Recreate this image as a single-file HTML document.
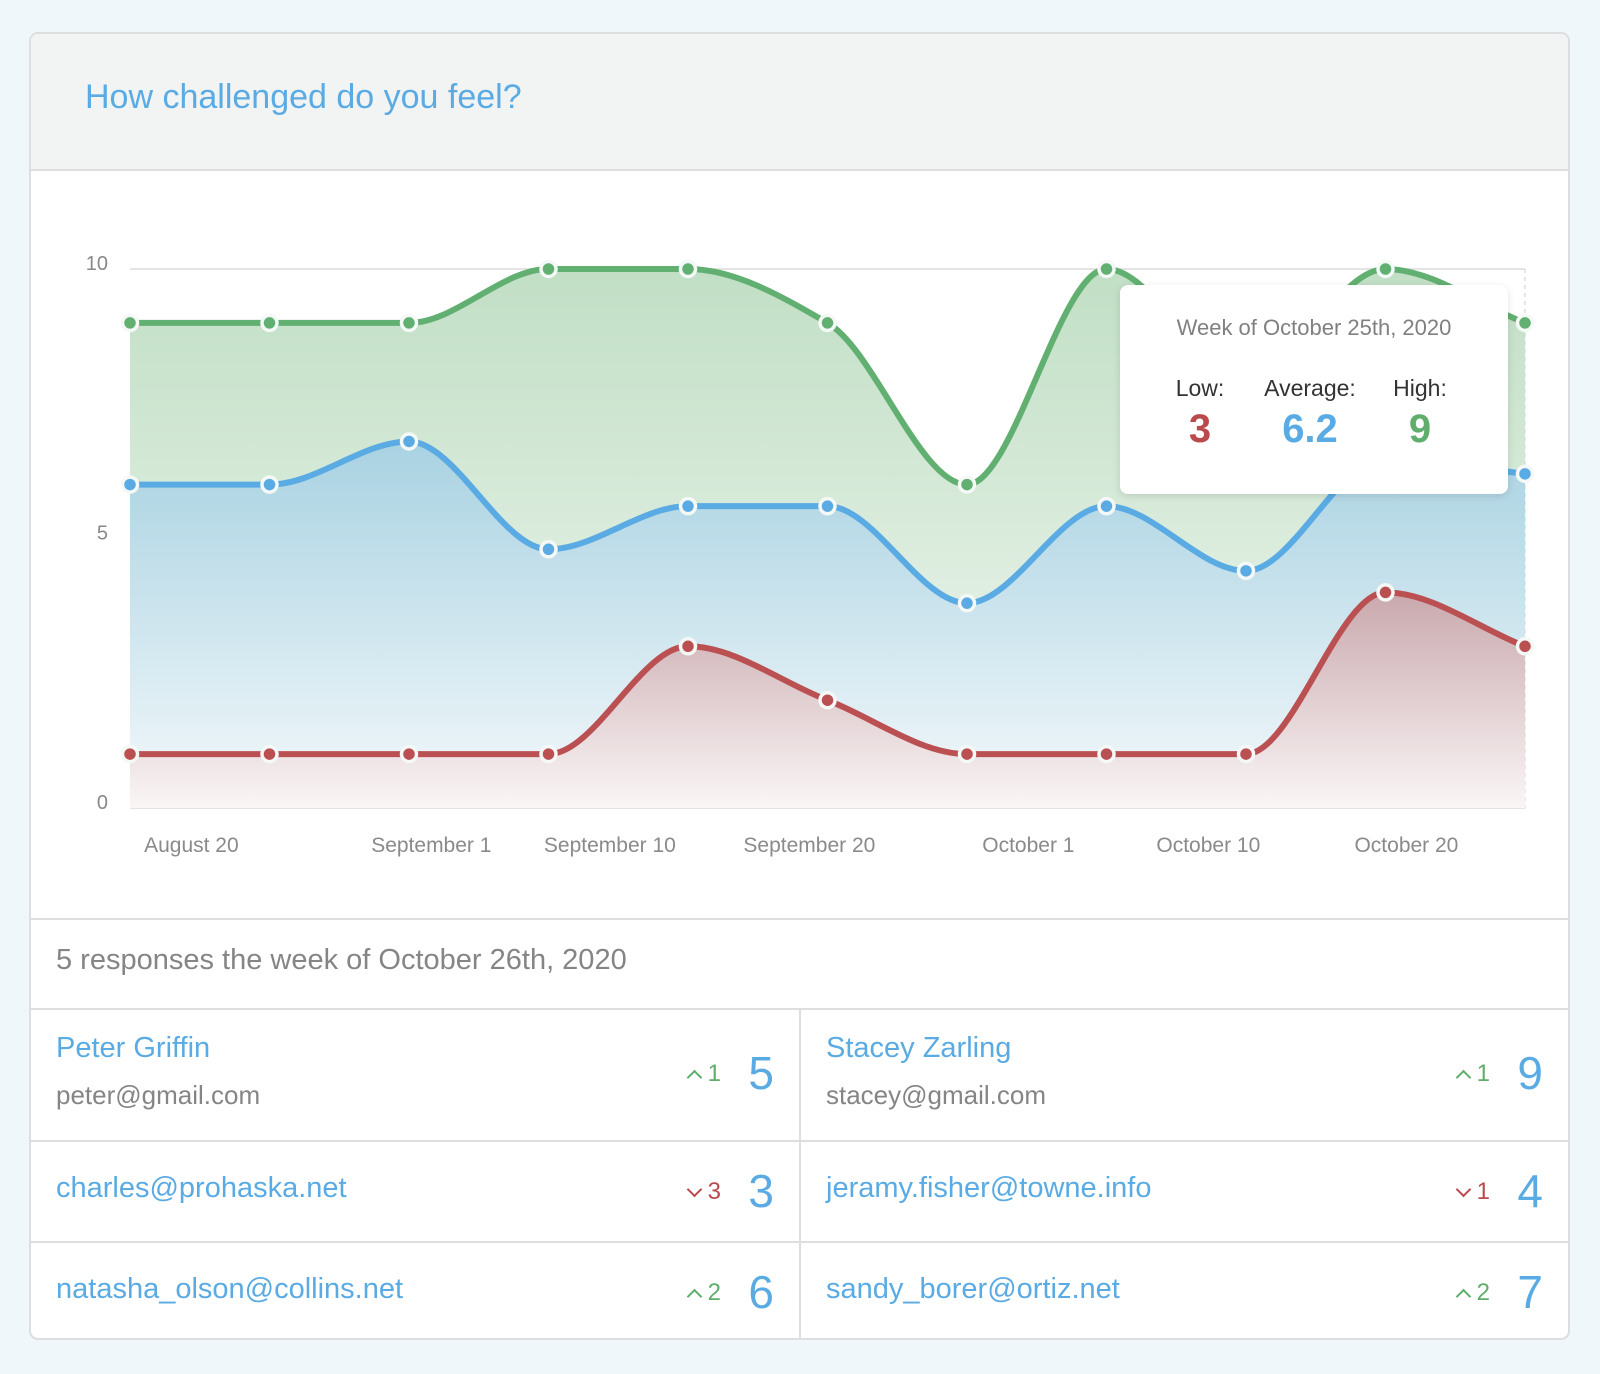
<!DOCTYPE html>
<html><head><meta charset="utf-8">
<style>
html,body{margin:0;padding:0;}
body{width:1600px;height:1374px;background:#eff7fa;font-family:"Liberation Sans",sans-serif;position:relative;overflow:hidden;}
.card{position:absolute;left:29px;top:32px;width:1541px;height:1308px;background:#fff;border:2px solid #dcdedf;border-radius:9px;overflow:hidden;box-sizing:border-box;}
.hdr{position:absolute;left:0;top:0;right:0;height:135px;background:#f2f3f3;border-bottom:2px solid #dcdedf;}
.title{position:absolute;left:54px;top:44px;font-size:34px;color:#5aabe3;}
svg{position:absolute;left:0;top:0;}
.sum{position:absolute;left:0;right:0;top:884px;height:88px;border-top:2px solid #dcdedf;border-bottom:2px solid #dcdedf;}
.sum span{position:absolute;left:25px;top:24px;font-size:29px;color:#858585;}
.row{position:absolute;left:0;right:0;border-bottom:2px solid #dcdedf;}
.cell{position:absolute;top:0;bottom:0;}
.name{position:absolute;left:25px;font-size:29px;color:#5aabe3;white-space:nowrap;}
.mail{position:absolute;left:25px;font-size:26px;color:#858585;}
.num{position:absolute;right:25px;font-size:46px;color:#5aabe3;}
.chg{position:absolute;right:78px;font-size:24px;}
.chg i{display:inline-block;width:9px;height:9px;border-left:2px solid currentColor;border-top:2px solid currentColor;margin-right:8px;}
.up i{transform:rotate(45deg);vertical-align:-2px;}
.dn i{transform:rotate(225deg);vertical-align:4px;}
.up{color:#5fae6c}.dn{color:#b94a4d}
.tip{position:absolute;left:1089px;top:251px;width:388px;height:209px;background:#fff;border-radius:8px;box-shadow:0 2px 8px rgba(0,0,0,.12);}
.tip .wk{position:absolute;left:0;right:0;top:30px;text-align:center;font-size:22px;color:#808080;}
.tip .lab{position:absolute;top:90px;font-size:23px;color:#333;text-align:center;}
.tip .val{position:absolute;top:122px;font-size:40px;font-weight:bold;text-align:center;}
</style></head><body>
<div class="card">
  <div class="hdr"><div class="title">How challenged do you feel?</div></div>
  <svg id="chart" width="1541" height="880"></svg>
  <div class="tip">
    <div class="wk">Week of October 25th, 2020</div>
    <div class="lab" style="left:30px;width:100px">Low:</div>
    <div class="lab" style="left:130px;width:120px">Average:</div>
    <div class="lab" style="left:250px;width:100px">High:</div>
    <div class="val" style="left:30px;width:100px;color:#b94a4d">3</div>
    <div class="val" style="left:130px;width:120px;color:#5aabe3">6.2</div>
    <div class="val" style="left:250px;width:100px;color:#5fae6c">9</div>
  </div>
  <div class="sum"><span>5 responses the week of October 26th, 2020</span></div>
  <div class="row" style="top:974px;height:132px">
    <div class="cell" style="left:0;width:768px;border-right:2px solid #dcdedf">
      <div class="name" style="top:24px">Peter Griffin</div>
      <div class="mail" style="top:72px">peter@gmail.com</div>
      <div class="chg up" style="top:52px"><i></i>1</div>
      <div class="num" style="top:38px">5</div>
    </div>
    <div class="cell" style="left:770px;right:0">
      <div class="name" style="top:24px">Stacey Zarling</div>
      <div class="mail" style="top:72px">stacey@gmail.com</div>
      <div class="chg up" style="top:52px"><i></i>1</div>
      <div class="num" style="top:38px">9</div>
    </div>
  </div>
  <div class="row" style="top:1108px;height:99px">
    <div class="cell" style="left:0;width:768px;border-right:2px solid #dcdedf">
      <div class="name" style="top:30px">charles@prohaska.net</div>
      <div class="chg dn" style="top:36px"><i></i>3</div>
      <div class="num" style="top:22px">3</div>
    </div>
    <div class="cell" style="left:770px;right:0">
      <div class="name" style="top:30px">jeramy.fisher@towne.info</div>
      <div class="chg dn" style="top:36px"><i></i>1</div>
      <div class="num" style="top:22px">4</div>
    </div>
  </div>
  <div class="row" style="top:1209px;height:99px;border-bottom:none">
    <div class="cell" style="left:0;width:768px;border-right:2px solid #dcdedf">
      <div class="name" style="top:30px">natasha_olson@collins.net</div>
      <div class="chg up" style="top:36px"><i></i>2</div>
      <div class="num" style="top:22px">6</div>
    </div>
    <div class="cell" style="left:770px;right:0">
      <div class="name" style="top:30px">sandy_borer@ortiz.net</div>
      <div class="chg up" style="top:36px"><i></i>2</div>
      <div class="num" style="top:22px">7</div>
    </div>
  </div>
</div>
<script>
const highValues=[9,9,9,10,10,9,6,10,8,10,9];
const avgValues=[6,6,6.8,4.8,5.6,5.6,3.8,5.6,4.4,6.5,6.2];
const lowValues=[1,1,1,1,3,2,1,1,1,4,3];
const yTicks=[0,5,10];
const xTickLabels=["August 20","September 1","September 10","September 20","October 1","October 10","October 20"];
const xTickPos=[0.44,2.16,3.44,4.87,6.44,7.73,9.15];

const svg=document.getElementById('chart');
const NS='http://www.w3.org/2000/svg';
const X0=99,X1=1494,Y0=774,Y1=235;
const n=highValues.length;
const xs=i=>X0+i*(X1-X0)/(n-1);
const ys=v=>Y0-v*(Y0-Y1)/10;
function mk(tag,attrs,parent){const e=document.createElementNS(NS,tag);for(const k in attrs)e.setAttribute(k,attrs[k]);(parent||svg).appendChild(e);return e;}
function monotone(pts){
  const m=pts.length,d=[],t=[];
  for(let i=0;i<m-1;i++)d.push((pts[i+1][1]-pts[i][1])/(pts[i+1][0]-pts[i][0]));
  for(let i=0;i<m;i++){
    if(i===0)t.push(d[0]);else if(i===m-1)t.push(d[m-2]);
    else t.push(d[i-1]*d[i]<=0?0:(2*d[i-1]*d[i])/(d[i-1]+d[i]));
  }
  let p='M'+pts[0][0]+','+pts[0][1];
  for(let i=0;i<m-1;i++){const h=(pts[i+1][0]-pts[i][0])/3;
    p+=' C'+(pts[i][0]+h)+','+(pts[i][1]+t[i]*h)+' '+(pts[i+1][0]-h)+','+(pts[i+1][1]-t[i+1]*h)+' '+pts[i+1][0]+','+pts[i+1][1];}
  return p;
}
const defs=mk('defs',{});
function grad(id,c1,c2){const g=mk('linearGradient',{id:id,x1:0,y1:0,x2:0,y2:1},defs);mk('stop',{offset:0,'stop-color':c1},g);mk('stop',{offset:1,'stop-color':c2},g);}
grad('gG','#c1dfc5','#f3f8f3');grad('gB','#a9d2e2','#f4f9fb');grad('gR','#c9a8ad','#faf6f6');
yTicks.forEach(v=>{
  const l=mk('line',{x1:X0,x2:X1,y1:ys(v),y2:ys(v),stroke:'#dcdcdc','stroke-width':1.5});
  
  
  const t=mk('text',{x:X0-22,y:ys(v)+1,'text-anchor':'end','font-size':20,fill:'#888','font-family':'Liberation Sans, sans-serif'});t.textContent=v;
  
  
});
mk('line',{x1:X1,x2:X1,y1:Y1,y2:Y0,stroke:'#ccc','stroke-dasharray':'4,4'});
xTickLabels.forEach((s,i)=>{
  const t=mk('text',{x:xs(xTickPos[i]),y:Y0+44,'text-anchor':'middle','font-size':21,fill:'#8a8a8a','font-family':'Liberation Sans, sans-serif'});t.textContent=s;
  
  
});
const series=[[highValues,'#62b071','gG','high'],[avgValues,'#5aabe3','gB','average'],[lowValues,'#bb5052','gR','low']];
series.forEach(([vals,col,g,nm])=>{
  const pts=vals.map((v,i)=>[xs(i),ys(v)]);
  const a=mk('path',{d:monotone(pts)+' L'+X1+','+Y0+' L'+X0+','+Y0+' Z',fill:'url(#'+g+')'});
  
  
});
series.forEach(([vals,col,g,nm])=>{
  const pts=vals.map((v,i)=>[xs(i),ys(v)]);
  const l=mk('path',{d:monotone(pts),fill:'none',stroke:col,'stroke-width':6});
  
  
  pts.forEach(p=>{
    const c=mk('circle',{cx:p[0],cy:p[1],r:7.5,fill:col,stroke:'#f4f8f6','stroke-width':3.5});
    
    
  });
});
</script>
</body></html>
